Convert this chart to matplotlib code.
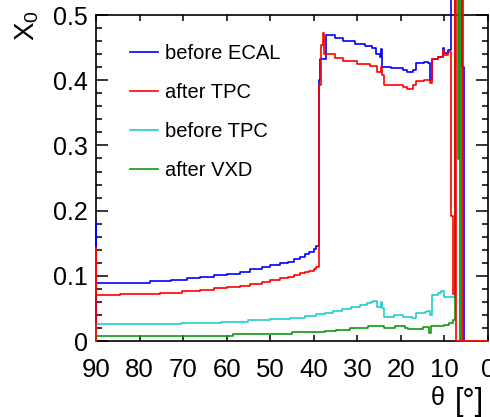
import matplotlib
matplotlib.use("Agg")
import matplotlib.pyplot as plt
from matplotlib.ticker import MultipleLocator

plt.rcParams["font.family"] = ["Liberation Sans", "DejaVu Sans"]
plt.rcParams["mathtext.fontset"] = "custom"
plt.rcParams["mathtext.rm"] = "Liberation Sans"
plt.rcParams["mathtext.it"] = "Liberation Sans:italic"

# material budget X0 vs polar angle (values hold until the next theta, step style)
theta_ecal = [90, 90, 89.9, 77.6, 72.9, 69.2, 66.1, 63, 60, 57,
              54.6, 52, 50, 47.8, 46, 44.5, 43.2, 42, 41, 40,
              39.4, 38.9, 38.6, 37.3, 35.2, 33.3, 30.6, 28.3, 26.6, 25.8,
              24.9, 24.6, 24.3, 22.2, 19.6, 18.5, 17.3, 16.5, 14.6, 13.8,
              13.4, 12.8, 11.6, 10.4, 10.0, 9.2, 8.4, 5.95, 5.6, 0]
x0_ecal = [0, 0.183, 0.089, 0.092, 0.094, 0.0965, 0.098, 0.101, 0.103, 0.1066,
           0.110, 0.113, 0.116, 0.119, 0.122, 0.126, 0.1296, 0.133, 0.137, 0.141,
           0.146, 0.40, 0.432, 0.470, 0.464, 0.460, 0.455, 0.452, 0.4496, 0.4395,
           0.436, 0.4476, 0.4205, 0.418, 0.4155, 0.413, 0.4155, 0.4257, 0.428, 0.4257,
           0.400, 0.432, 0.436, 0.4487, 0.441, 0.446, 1.0, 0.42, 0.0, 0.0]

theta_tpc_out = [90, 90, 89.9, 84.5, 75.3, 70.3, 66.1, 63, 60, 57,
                 54.6, 52, 50, 47.8, 46, 44.5, 43.2, 42, 41, 40,
                 39.4, 38.85, 38.25, 37.87, 37.64, 35.2, 33.3, 30, 27, 25.6,
                 24.6, 24.3, 23.9, 19.6, 18.5, 17.3, 16.5, 14.6, 13.4, 13.0,
                 12.8, 11.4, 10.4, 10.0, 9.2, 8.4, 8.0, 7.66, 7.27, 6.06,
                 5.76, 0]
x0_tpc_out = [0, 0.142, 0.070, 0.072, 0.0745, 0.077, 0.079, 0.081, 0.083, 0.0847,
              0.087, 0.090, 0.093, 0.0965, 0.099, 0.101, 0.104, 0.106, 0.108, 0.111,
              0.114, 0.392, 0.4537, 0.4717, 0.4395, 0.434, 0.429, 0.425, 0.422, 0.4129,
              0.4205, 0.408, 0.3925, 0.390, 0.387, 0.3925, 0.3986, 0.400, 0.3965, 0.396,
              0.432, 0.436, 0.446, 0.4385, 0.4435, 0.192, 0.072, 1.0, 0.0, 1.0,
              0.0, 0.0]

theta_tpc_in = [90, 90, 70.6, 61.2, 55, 50, 45.5, 42, 39.5, 37.5,
                35.5, 33.5, 31.5, 29.5, 27.8, 26.8, 26.4, 25.6, 24.6, 24.3,
                23.9, 21.6, 19.6, 18.5, 17.4, 16.5, 14.5, 14.1, 13.4, 12.8,
                11.5, 10.7, 10.0, 7.66, 6.4, 0]
x0_tpc_in = [0, 0.026, 0.028, 0.0296, 0.032, 0.034, 0.036, 0.038, 0.041, 0.043,
             0.046, 0.049, 0.052, 0.055, 0.058, 0.060, 0.062, 0.053, 0.060, 0.050,
             0.0377, 0.040, 0.037, 0.0377, 0.035, 0.043, 0.045, 0.0465, 0.040, 0.071,
             0.073, 0.0775, 0.068, 1.0, 0.0, 0.0]

theta_vxd = [90, 90, 58.5, 45.1, 37.5, 35, 31.7, 27.6, 25, 24,
             21.4, 19, 18.3, 15, 13.6, 13.1, 11.5, 10.2, 8.9, 8.0,
             7.5, 7.0, 6.75, 6.45, 0]
x0_vxd = [0, 0.0085, 0.011, 0.0138, 0.0158, 0.0173, 0.0195, 0.0224, 0.0234, 0.0208,
          0.0234, 0.0200, 0.0193, 0.0215, 0.013, 0.0225, 0.0235, 0.025, 0.0276, 0.0326,
          1.0, 0.279, 1.0, 0.0, 0.0]

x_ticks = [90, 80, 70, 60, 50, 40, 30, 20, 10, 0]
y_ticks = [0, 0.1, 0.2, 0.3, 0.4, 0.5]
y_labels = ["0", "0.1", "0.2", "0.3", "0.4", "0.5"]

fig = plt.figure(figsize=(4.9, 4.17), dpi=100)
ax = fig.add_axes([0.196, 0.182, 0.8, 0.782])

lw = 1.2
l_ecal, = ax.plot(theta_ecal, x0_ecal, drawstyle="steps-post", color="#0000ff",
                  lw=lw, clip_on=False, zorder=3, label="before ECAL")
l_in, = ax.plot(theta_tpc_in, x0_tpc_in, drawstyle="steps-post", color="#22cccc",
                lw=lw, clip_on=False, zorder=3, label="before TPC")
l_vxd, = ax.plot(theta_vxd, x0_vxd, drawstyle="steps-post", color="#119911",
                 lw=lw, clip_on=False, zorder=3, label="after VXD")
l_out, = ax.plot(theta_tpc_out, x0_tpc_out, drawstyle="steps-post", color="#ff0000",
                 lw=lw, clip_on=False, zorder=3, label="after TPC")

ax.set_xlim(90, 0)
ax.set_ylim(0, 0.5)
ax.set_xticks(x_ticks)
ax.set_xticklabels([str(t) for t in x_ticks])
ax.set_yticks(y_ticks)
ax.set_yticklabels(y_labels)
ax.yaxis.set_minor_locator(MultipleLocator(0.02))

ax.tick_params(which="both", direction="in", top=True, right=True, width=1.1)
ax.tick_params(axis="x", which="major", length=4.5, pad=12, labelsize=18.5)
ax.tick_params(axis="y", which="major", length=8.5, pad=6, labelsize=18)
ax.tick_params(axis="y", which="minor", length=4.5)
for s in ax.spines.values():
    s.set_linewidth(1.2)

ax.legend(handles=[l_ecal, l_out, l_in, l_vxd], loc="upper left",
          bbox_to_anchor=(0.087, 0.911), frameon=False, fontsize=14.5,
          handlelength=1.39, handletextpad=0.35, labelspacing=1.0,
          borderpad=0, borderaxespad=0)

fig.text(27 / 490, 1 - 26 / 417, "X$_0$", rotation=90, fontsize=20,
         ha="center", va="center")
fig.text(445 / 490, 1 - 405 / 417, "θ", fontsize=18, ha="right", va="baseline")
fig.text(484 / 490, 1 - 410 / 417, "[°]", fontsize=22, ha="right", va="baseline")

plt.savefig("out.png", dpi=100)
